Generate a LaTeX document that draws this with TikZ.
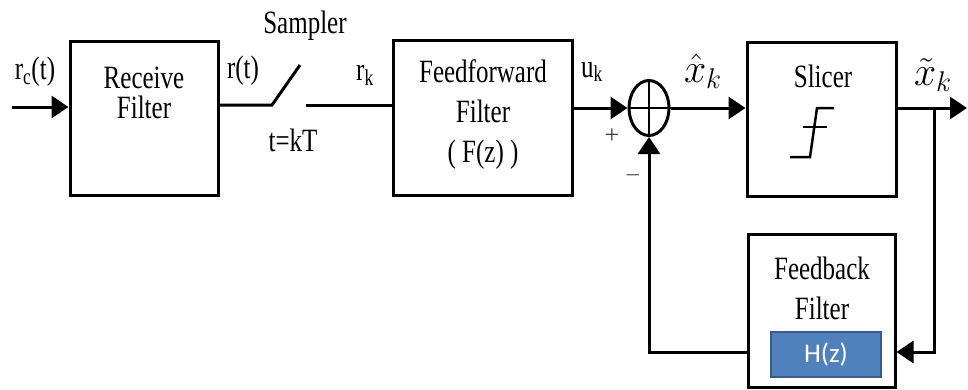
\documentclass[tikz,border=0pt]{standalone}
\usepackage{graphicx}
\usepackage{fontspec}
\setmainfont{Liberation Serif}
\newfontfamily\hzfont{Carlito}
\usepackage{tikz}
\usetikzlibrary{positioning,arrows.meta,shapes.geometric}
\definecolor{hzblue}{HTML}{4F81BD}
\definecolor{hzedge}{HTML}{385D8A}
\newcommand{\tall}[1]{\scalebox{1}[1.3]{#1}}
\newcommand{\symbig}[1]{\scalebox{1.6}[1.65]{#1}}
\tikzset{
  blk/.style={draw, line width=3pt, inner sep=0pt},
  txt/.style={font=\fontsize{25}{30}\selectfont, align=center, inner sep=0pt},
  mth/.style={font=\fontsize{24}{28}\selectfont, inner sep=0pt},
  sig/.style={line width=3pt},
  arr/.style={sig, -{Triangle[length=17pt,width=22pt]}},
}

\begin{document}
\begin{tikzpicture}[x=1pt,y=-1pt]
  \useasboundingbox (0,0) rectangle (968,389);

  % Receive filter
  \node[blk, minimum width=148pt, minimum height=154pt] (recv) at (144,118) {};
  \node[txt] (recvtxt) at (144,93) {\tall{Receive}\\\tall{Filter}};
  \coordinate (in) at (12,107);
  \draw[arr] (in) -- (in -| recv.west);
  \node[txt] (rct) at (35,72) {\tall{r\textsubscript{c}(t)}};

  % Sampler: 218 to 393
  \coordinate (sw1) at (272,105);
  \coordinate (sw2) at (300,65);
  \coordinate (sw3) at (306,105);
  \node[blk, minimum width=179pt, minimum height=155pt] (ff) at (482.5,117.5) {};
  \draw[sig] (recv.east |- sw1) -- (sw1) -- (sw2);
  \draw[sig] (sw3) -- (sw3 -| ff.west);
  \node[txt] (samp) at (305,26) {\tall{Sampler}};
  \node[txt] (rt) at (243,71) {\tall{r(t)}};
  \node[txt] (tkt) at (293,140) {\tall{t=kT}};
  \node[txt] (rk) at (365,75) {\tall{r\textsubscript{k}}};

  % Feedforward filter
  \node[txt, font=\fontsize{25}{40}\selectfont] (fftxt) at (483,115) {\tall{Feedforward}\\\tall{Filter}\\\tall{( F(z) )}};
  \node[txt] (uk) at (592,72) {\tall{u\textsubscript{k}}};

  % Summing point
  \node[draw, ellipse, line width=3pt, minimum width=40pt, minimum height=55pt, inner sep=0pt] (sum) at (649,108) {};
  \draw[line width=2pt] (sum.north) -- (sum.south) (sum.west) -- (sum.east);
  \draw[arr] (ff.east |- sum.west) -- (sum.west);
  \node[txt, font=\fontsize{26}{28}\selectfont, text=black!75] (plus) at (612,136) {+};
  \node[txt, font=\fontsize{22}{24}\selectfont] (minus) at (633,175) {$-$};

  % Slicer
  \node[blk, minimum width=149pt, minimum height=154pt] (slicer) at (821.5,119) {};
  \node[txt] (slictxt) at (823,76) {\tall{Slicer}};
  \draw[line width=2.5pt] (790,157) -- (810,157) -- (817,108) -- (834,108);
  \draw[line width=2.5pt] (803,127) -- (827,127);
  \draw[arr] (sum.east) -- (sum.east -| slicer.west);
  \node[mth] (xhat) at (703,71) {\symbig{$\hat{x}_{k}$}};

  % Output and feedback branch
  \coordinate (out) at (967,108);
  \coordinate (br) at (934,108);
  \coordinate (fbline) at (0,352);
  \draw[arr] (sum.east -| slicer.east) -- (out);
  \node[mth] (xtil) at (933,75) {\symbig{$\tilde{x}_{k}$}};

  % Feedback filter
  \node[blk, minimum width=147pt, minimum height=153pt] (fb) at (821.5,310.5) {};
  \node[txt, font=\fontsize{25}{40}\selectfont] (fbtxt) at (822,288.5) {\tall{Feedback}\\\tall{Filter}};
  \node[draw=hzedge, line width=2pt, fill=hzblue, text=white, minimum width=110pt, minimum height=45pt, inner sep=0pt, font=\hzfont\fontsize{27}{30}\selectfont] (hz) at (826,354.5) {H(z)};
  \draw[arr] (br) |- (fb.east |- fbline);
  \draw[arr] (fb.west |- fbline) -| (sum.south);
\end{tikzpicture}
\end{document}
